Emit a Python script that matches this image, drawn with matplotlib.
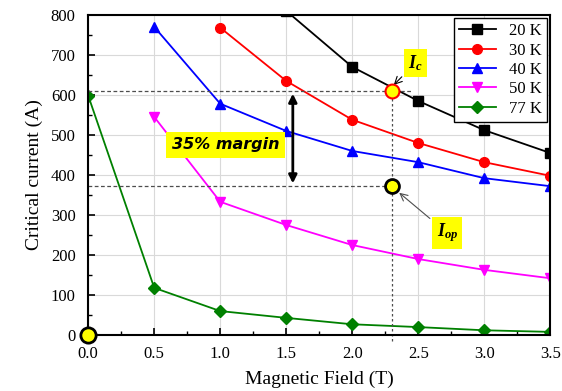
import matplotlib.pyplot as plt
from matplotlib.ticker import MultipleLocator

# field values (T)
field = [0.0, 0.5, 1.0, 1.5, 2.0, 2.5, 3.0, 3.5]

# critical current (A) per temperature, None = not measured
ic_20k = [None, None, None, 810, 670, 585, 512, 455]
ic_30k = [None, None, 768, 635, 538, 480, 432, 398]
ic_40k = [None, 770, 578, 510, 460, 432, 392, 372]
ic_50k = [None, 545, 333, 275, 225, 190, 163, 142]
ic_77k = [598, 118, 60, 43, 27, 20, 12, 8]

labels = ["20 K", "30 K", "40 K", "50 K", "77 K"]
series = [ic_20k, ic_30k, ic_40k, ic_50k, ic_77k]
colors = ["black", "red", "blue", "magenta", "green"]
markers = ["s", "o", "^", "v", "D"]

# operating point annotations
b_op = 2.3
i_c = 610
i_op = 372

serif = ["Liberation Serif", "DejaVu Serif"]

plt.rcParams["mathtext.fontset"] = "custom"
plt.rcParams["mathtext.it"] = "Liberation Serif:italic:bold"
plt.rcParams["mathtext.rm"] = "Liberation Serif:bold"


def main():
    fig = plt.figure(figsize=(5.62, 3.91), dpi=100)
    ax = fig.add_axes([0.157, 0.143, 0.822, 0.819])

    for vals, lab, col, mk in zip(series, labels, colors, markers):
        xs = [b for b, v in zip(field, vals) if v is not None]
        ys = [v for v in vals if v is not None]
        ms = 6 if mk == "D" else 7
        ax.plot(xs, ys, color=col, marker=mk, markersize=ms, lw=1.3, label=lab)

    # dashed guides
    ax.plot([0, 2.45], [i_c, i_c], ls=(0, (3, 2)), color="0.3", lw=0.9)
    ax.plot([0, b_op], [i_op, i_op], ls=(0, (3, 2)), color="0.3", lw=0.9)
    ax.plot([b_op, b_op], [-15, i_c], ls=(0, (2, 2)), color="0.3", lw=0.9,
            clip_on=False)

    # highlight circles
    ax.plot(b_op, i_c, "o", ms=10, mfc="yellow", mec="red", mew=1.5, zorder=5)
    ax.plot(b_op, i_op, "o", ms=10, mfc="yellow", mec="black", mew=2, zorder=5)
    ax.plot(0, 0, "o", ms=11, mfc="yellow", mec="black", mew=2, zorder=6,
            clip_on=False)

    # margin arrow
    ax.annotate("", xy=(1.55, i_c), xytext=(1.55, i_op),
                arrowprops=dict(arrowstyle="<|-|>", color="black", lw=2,
                                mutation_scale=12))
    ax.text(1.04, 475, "35% margin", ha="center", va="center", fontsize=11.5,
            fontweight="bold", style="italic",
            bbox=dict(boxstyle="square,pad=0.35", fc="yellow", ec="none"))

    ax.annotate(r"$I_c$", xy=(b_op, i_c + 10),
                xytext=(2.48, 680), ha="center", va="center", fontsize=13,
                bbox=dict(boxstyle="square,pad=0.25", fc="yellow", ec="none"),
                arrowprops=dict(arrowstyle="->", color="black", lw=0.8))
    ax.annotate(r"$I_{op}$", xy=(b_op + 0.04, i_op - 12),
                xytext=(2.72, 255), ha="center", va="center", fontsize=13,
                bbox=dict(boxstyle="square,pad=0.25", fc="yellow", ec="none"),
                arrowprops=dict(arrowstyle="->", color="0.3", lw=0.8))

    ax.set_xlim(0, 3.5)
    ax.set_ylim(0, 800)
    ax.xaxis.set_major_locator(MultipleLocator(0.5))
    ax.xaxis.set_minor_locator(MultipleLocator(0.25))
    ax.yaxis.set_major_locator(MultipleLocator(100))
    ax.yaxis.set_minor_locator(MultipleLocator(50))
    ax.grid(True, which="major", color="0.85", lw=0.8)
    ax.set_axisbelow(True)
    ax.tick_params(which="both", direction="in", top=False, right=False)
    ax.tick_params(which="major", length=5, width=1.2)
    ax.tick_params(axis="x", which="major", pad=8)
    ax.tick_params(axis="y", which="major", pad=9)
    ax.tick_params(which="minor", length=3, width=1)
    for s in ax.spines.values():
        s.set_linewidth(1.5)

    ax.set_xticks(field)
    ax.set_xticklabels([f"{v:.1f}" for v in field])
    for t in ax.get_xticklabels() + ax.get_yticklabels():
        t.set_family(serif)
        t.set_fontsize(12)

    ax.set_xlabel("Magnetic Field (T)", family=serif, fontsize=14, labelpad=6)
    ax.set_ylabel("Critical current (A)", family=serif, fontsize=14, labelpad=6)

    leg = ax.legend(loc="upper right", prop={"family": serif, "size": 12},
                    fancybox=False, edgecolor="black", framealpha=1,
                    handlelength=2.2, borderpad=0.3, labelspacing=0.2,
                    borderaxespad=0.2)
    leg.get_frame().set_linewidth(1)

    fig.savefig("out.png", dpi=100)


if __name__ == "__main__":
    main()
